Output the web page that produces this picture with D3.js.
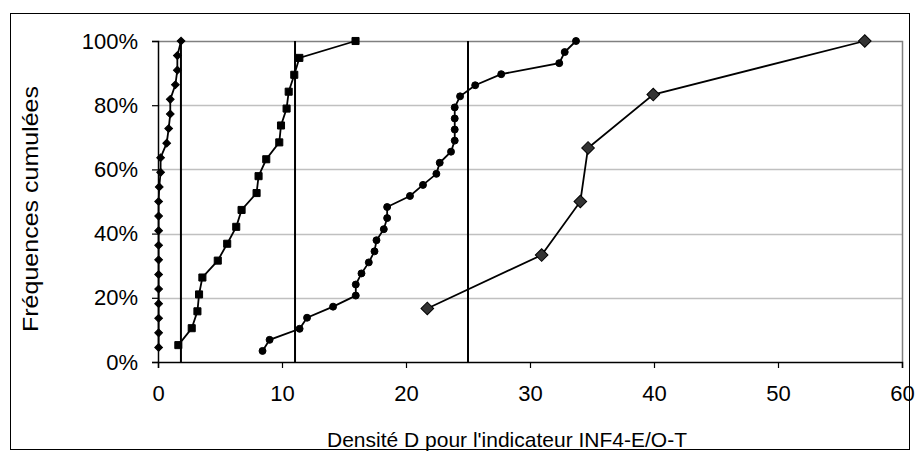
<!DOCTYPE html>
<html>
<head>
<meta charset="utf-8">
<script src="https://cdn.jsdelivr.net/npm/d3@7"></script>
<style>
  html, body { margin: 0; padding: 0; background: #fff; }
  svg { display: block; font-family: "Liberation Sans", Arial, sans-serif; }
</style>
</head>
<body>
<svg id="chart" width="920" height="459"></svg>
<script>
// Axis ticks
const xTickValues = [0, 10, 20, 30, 40, 50, 60];
const yTickValues = [0, 20, 40, 60, 80, 100];

// Series A (small black diamonds): density values and cumulative frequencies (%)
const seriesAx = [0.05, 0.05, 0.05, 0.05, 0.05, 0.05, 0.05, 0.05, 0.05, 0.05, 0.05, 0.1,
                  0.21, 0.21, 0.7, 0.86, 0.99, 0.99, 1.4, 1.56, 1.56, 1.86];
const seriesAy = [4.55, 9.09, 13.64, 18.18, 22.73, 27.27, 31.82, 36.36, 40.91, 45.45, 50, 54.55,
                  59.09, 63.64, 68.18, 72.73, 77.27, 81.82, 86.36, 90.91, 95.45, 100];

// Series B (squares)
const seriesBx = [1.64, 2.72, 3.18, 3.31, 3.58, 4.82, 5.58, 6.31, 6.74, 7.95, 8.11, 8.73,
                  9.78, 9.92, 10.37, 10.54, 10.99, 11.40, 15.93];
const seriesBy = [5.26, 10.53, 15.79, 21.05, 26.32, 31.58, 36.84, 42.11, 47.37, 52.63, 57.89, 63.16,
                  68.42, 73.68, 78.95, 84.21, 89.47, 94.74, 100];

// Series C (circles)
const seriesCx = [8.43, 9.0, 11.42, 12.02, 14.12, 15.95, 15.95, 16.41, 17.0, 17.46, 17.62, 18.21,
                  18.48, 18.48, 20.32, 21.37, 22.45, 22.72, 23.63, 23.93, 23.93, 23.93, 23.93, 24.36,
                  25.58, 27.68, 32.36, 32.8, 33.71];
const seriesCy = [3.45, 6.90, 10.34, 13.79, 17.24, 20.69, 24.14, 27.59, 31.03, 34.48, 37.93, 41.38,
                  44.83, 48.28, 51.72, 55.17, 58.62, 62.07, 65.52, 68.97, 72.41, 75.86, 79.31, 82.76,
                  86.21, 89.66, 93.10, 96.55, 100];

// Series D (large grey diamonds)
const seriesDx = [21.72, 30.94, 34.06, 34.68, 39.94, 57.0];
const seriesDy = [16.67, 33.33, 50, 66.67, 83.33, 100];

// Vertical reference lines
const refLines = [1.85, 11.05, 25.0];

const svg = d3.select("#chart");

// Outer frame
svg.append("rect").attr("x", 10.5).attr("y", 13.5).attr("width", 899).attr("height", 436)
  .attr("fill", "#fff").attr("stroke", "#000").attr("stroke-width", 1);

const plot = { left: 158, right: 902, top: 41, bottom: 362 };
const x = d3.scaleLinear().domain([0, 60]).range([plot.left, plot.right]);
const y = d3.scaleLinear().domain([0, 100]).range([plot.bottom, plot.top]);

// Gridlines
svg.append("g").selectAll("line").data(yTickValues.filter(v => v > 0 && v < 100)).join("line")
  .attr("x1", plot.left).attr("x2", plot.right)
  .attr("y1", d => Math.round(y(d)) + 0.5).attr("y2", d => Math.round(y(d)) + 0.5)
  .attr("stroke", "#c0c0c0").attr("stroke-width", 1.5);

// Plot area border (top and right)
svg.append("path")
  .attr("d", `M${plot.left},${plot.top + 0.5}H${plot.right + 0.5}V${plot.bottom}`)
  .attr("fill", "none").attr("stroke", "#808080").attr("stroke-width", 1.5);

// Axes
const fmtPct = d => d + "%";
const yAxis = svg.append("g").attr("transform", `translate(${plot.left},0)`)
  .call(d3.axisLeft(y).tickValues(yTickValues).tickFormat(fmtPct).tickSize(6).tickPadding(14));
const xAxis = svg.append("g").attr("transform", `translate(0,${plot.bottom})`)
  .call(d3.axisBottom(x).tickValues(xTickValues).tickSize(6).tickPadding(17));
[xAxis, yAxis].forEach(g => {
  g.select(".domain").attr("stroke", "#000").attr("stroke-width", 1.5);
  g.selectAll(".tick line").attr("stroke", "#000").attr("stroke-width", 1.2);
  g.selectAll("text").attr("font-size", 22).attr("fill", "#000")
    .attr("font-family", "Liberation Sans, Arial, sans-serif");
});

// Reference lines
svg.append("g").selectAll("line").data(refLines).join("line")
  .attr("x1", d => x(d)).attr("x2", d => x(d))
  .attr("y1", y(0)).attr("y2", y(100))
  .attr("stroke", "#000").attr("stroke-width", 2);

const line = d3.line().x(d => x(d[0])).y(d => y(d[1]));
const zip = (xs, ys) => xs.map((v, i) => [v, ys[i]]);

const series = [
  { pts: zip(seriesAx, seriesAy), shape: d3.symbolSquare, size: 30, rot: 45, fill: "#000" },
  { pts: zip(seriesBx, seriesBy), shape: d3.symbolSquare, size: 50, rot: 0, fill: "#000" },
  { pts: zip(seriesCx, seriesCy), shape: d3.symbolCircle, size: 38, rot: 0, fill: "#000" },
  { pts: zip(seriesDx, seriesDy), shape: d3.symbolSquare, size: 80, rot: 45, fill: "#333" }
];

series.forEach(s => {
  svg.append("path").datum(s.pts).attr("d", line)
    .attr("fill", "none").attr("stroke", "#000").attr("stroke-width", 1.8);
  svg.append("g").selectAll("path").data(s.pts).join("path")
    .attr("d", d3.symbol().type(s.shape).size(s.size))
    .attr("transform", d => `translate(${x(d[0])},${y(d[1])}) rotate(${s.rot})`)
    .attr("fill", s.fill).attr("stroke", "#000").attr("stroke-width", 1);
});

// Axis titles
svg.append("text").attr("x", 507).attr("y", 447)
  .attr("text-anchor", "middle").attr("font-size", 21).text("Densité D pour l'indicateur INF4-E/O-T");
svg.append("text").attr("transform", `translate(38,209) rotate(-90)`)
  .attr("text-anchor", "middle").attr("font-size", 22)
  .attr("textLength", 246).attr("lengthAdjust", "spacingAndGlyphs")
  .text("Fréquences cumulées");
</script>
</body>
</html>
